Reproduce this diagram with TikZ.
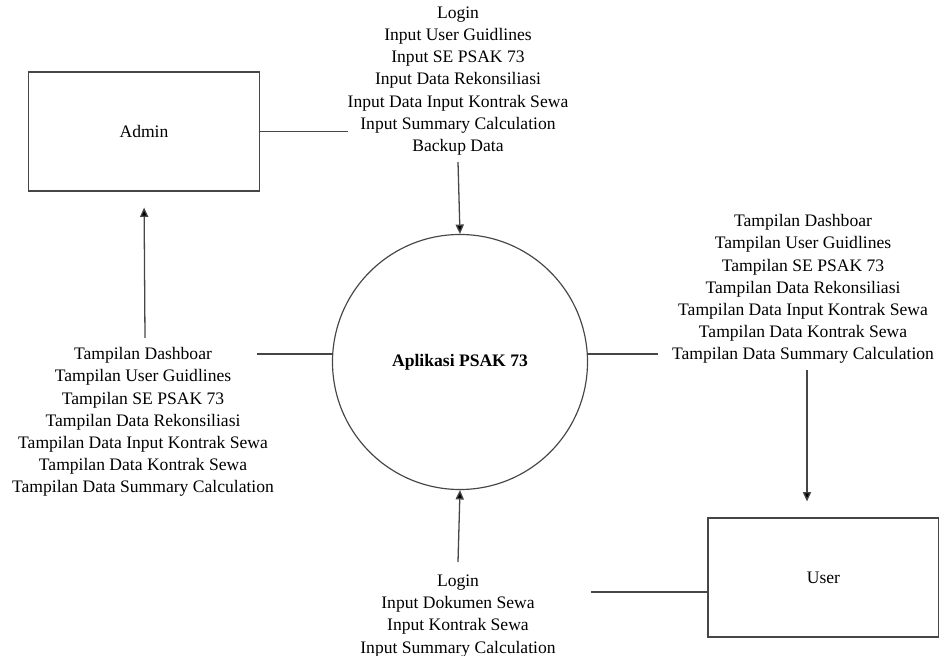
\documentclass[tikz,border=0pt]{standalone}
\usepackage{fontspec}
\setmainfont{Liberation Serif}
\usetikzlibrary{arrows.meta,calc}
\definecolor{dfd_line}{RGB}{70, 70, 70}
\tikzstyle{entity}=[rectangle,draw=dfd_line,line width=1pt,
  minimum width=6.93cm,minimum height=3.57cm,font=\fontsize{15}{18}\selectfont]
\tikzstyle{process}=[circle,draw=dfd_line,line width=1pt,inner sep=0pt,
  minimum size=7.65cm,font=\fontsize{15}{18}\selectfont\bfseries]
\tikzstyle{flowtext}=[align=center,inner sep=0pt,font=\fontsize{15}{18.9}\selectfont]
\tikzstyle{flow}=[draw=dfd_line,line width=1.1pt]
\tikzstyle{flowarrow}=[flow,-{Triangle[length=8pt,width=7pt,fill=black]}]
\tikzstyle{none}=[]

\begin{document}
\begin{tikzpicture}[x=0.03cm,y=-0.03cm]
            \useasboundingbox (0,0) rectangle (939,656);
            \node [style=entity] (admin) at (144, 131.5) {Admin};
            \node [style=entity] (user) at (823.5, 577.5) {User};
            \node [style=process] (app) at (460, 362) {Aplikasi PSAK 73};
            \node [style=flowtext] (admin_in) at (458, 81) {Login\\Input User Guidlines\\Input SE PSAK 73\\Input Data Rekonsiliasi\\Input Data Input Kontrak Sewa\\Input Summary Calculation\\Backup Data};
            \node [style=flowtext] (admin_out) at (143, 422) {Tampilan Dashboar\\Tampilan User Guidlines\\Tampilan SE PSAK 73\\Tampilan Data Rekonsiliasi\\Tampilan Data Input Kontrak Sewa\\Tampilan Data Kontrak Sewa\\Tampilan Data Summary Calculation};
            \node [style=flowtext] (user_out) at (803, 289) {Tampilan Dashboar\\Tampilan User Guidlines\\Tampilan SE PSAK 73\\Tampilan Data Rekonsiliasi\\Tampilan Data Input Kontrak Sewa\\Tampilan Data Kontrak Sewa\\Tampilan Data Summary Calculation};
            \node [style=flowtext] (user_in) at (458, 616) {Login\\Input Dokumen Sewa\\Input Kontrak Sewa\\Input Summary Calculation};
            \coordinate (1) at (348, 131.5);
            \coordinate (2) at (458, 162);
            \coordinate (3) at (257, 354);
            \coordinate (4) at (145, 338);
            \coordinate (5) at (658, 354);
            \coordinate (6) at (807, 370);
            \coordinate (7) at (458, 562);
            \coordinate (8) at (591, 592);
            \draw [style=flow] (admin.east) to (1);
            \draw [style=flowarrow] (2) to (app.north);
            \draw [style=flow] (3) to (3 -| app.west);
            \draw [style=flowarrow,shorten >=0.48cm] (4) to (admin.south);
            \draw [style=flow] (5 -| app.east) to (5);
            \draw [style=flowarrow,shorten >=0.48cm] (6) to (6 |- user.north);
            \draw [style=flowarrow] (7) to (app.south);
            \draw [style=flow] (8) to (8 -| user.west);
    \end{tikzpicture}
\end{document}
